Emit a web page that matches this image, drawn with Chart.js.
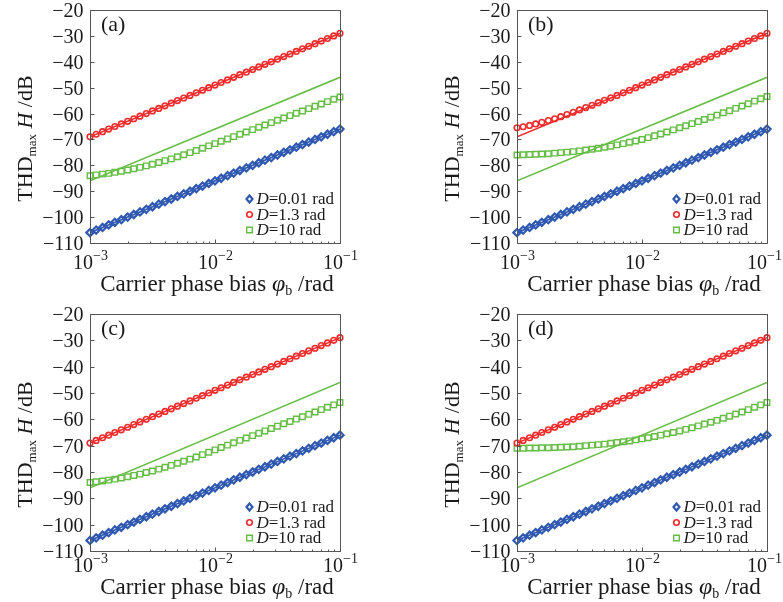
<!DOCTYPE html>
<html><head><meta charset="utf-8">
<script src="https://cdn.jsdelivr.net/npm/chart.js@4"></script>
<style>
body{margin:0;background:#fff;width:783px;height:602px;position:relative;overflow:hidden}
canvas{position:absolute}
</style></head><body>
<canvas id="ca" width="390" height="300" style="left:0;top:0"></canvas>
<canvas id="cb" width="356" height="300" style="left:427px;top:0"></canvas>
<canvas id="cc" width="390" height="298" style="left:0;top:304px"></canvas>
<canvas id="cd" width="356" height="298" style="left:427px;top:304px"></canvas>
<script>
// ---- data ----
const xs = [0.001,0.00112,0.00126,0.00141,0.00158,0.00178,0.002,0.00224,0.00251,0.00282,
  0.00316,0.00355,0.00398,0.00447,0.00501,0.00562,0.00631,0.00708,0.00794,0.00891,
  0.01,0.0112,0.0126,0.0141,0.0158,0.0178,0.02,0.0224,0.0251,0.0282,
  0.0316,0.0355,0.0398,0.0447,0.0501,0.0562,0.0631,0.0708,0.0794,0.0891,0.1];
const xLine = [0.001, 0.1];
const blueLine = [-106, -66];
const redLine = [-69, -29];
const greenLine = [-86, -46];
const blueSim = [-106,-105,-104,-103,-102,-101,-100,-99,-98,-97,-96,-95,-94,-93,-92,-91,-90,-89,-88,-87,
  -86,-85,-84,-83,-82,-81,-80,-79,-78,-77,-76,-75,-74,-73,-72,-71,-70,-69,-68,-67,-66];
const redSim = [-69,-68,-67,-66,-65,-64,-63,-62,-61,-60,-59,-58,-57,-56,-55,-54,-53,-52,-51,-50,
  -49,-48,-47,-46,-45,-44,-43,-42,-41,-40,-39,-38,-37,-36,-35,-34,-33,-32,-31,-30,-29];
const redSimB = [-65.5,-65.1,-64.6,-64.0,-63.4,-62.7,-62.0,-61.2,-60.4,-59.5,-58.6,-57.7,-56.8,-55.8,-54.9,-53.9,-53,-52,-51,-50,
  -49,-48,-47,-46,-45,-44,-43,-42,-41,-40,-39,-38,-37,-36,-35,-34,-33,-32,-31,-30,-29];
const greenSimA = [-84.0,-83.7,-83.4,-83.1,-82.7,-82.3,-81.8,-81.3,-80.8,-80.2,-79.6,-78.9,-78.2,-77.5,-76.7,-75.9,-75.1,-74.3,-73.4,-72.5,
  -71.6,-70.7,-69.8,-68.9,-68.0,-67.1,-66.2,-65.3,-64.4,-63.5,-62.6,-61.7,-60.8,-59.9,-59.0,-58.1,-57.2,-56.3,-55.4,-54.5,-53.6];
const greenSimB = [-76.0,-75.9,-75.8,-75.7,-75.6,-75.5,-75.3,-75.1,-74.9,-74.7,-74.4,-74.1,-73.8,-73.4,-73.0,-72.6,-72.1,-71.6,-71.1,-70.6,
  -70.0,-69.3,-68.6,-67.9,-67.1,-66.3,-65.5,-64.7,-63.9,-63.1,-62.3,-61.4,-60.6,-59.7,-58.9,-58.0,-57.1,-56.2,-55.2,-54.3,-53.4];
const greenSimC = [-84.0,-83.7,-83.4,-83.1,-82.7,-82.3,-81.8,-81.3,-80.8,-80.2,-79.6,-78.9,-78.2,-77.5,-76.7,-75.9,-75.1,-74.3,-73.4,-72.5,
  -71.6,-70.7,-69.8,-68.9,-68.0,-67.1,-66.2,-65.3,-64.4,-63.5,-62.6,-61.7,-60.8,-59.9,-59.0,-58.1,-57.2,-56.3,-55.4,-54.5,-53.6];
const greenSimD = [-71.0,-71.0,-70.9,-70.9,-70.8,-70.8,-70.7,-70.6,-70.5,-70.4,-70.2,-70.0,-69.8,-69.6,-69.4,-69.1,-68.8,-68.5,-68.2,-67.8,
  -67.4,-67.0,-66.5,-66.0,-65.5,-65.0,-64.4,-63.8,-63.2,-62.5,-61.8,-61.1,-60.4,-59.6,-58.8,-58.0,-57.2,-56.3,-55.4,-54.5,-53.6];
const yTicks = [-110,-100,-90,-80,-70,-60,-50,-40,-30,-20];
const xMajor = [0.001, 0.01, 0.1];
const xMajorExp = ['\u22123', '\u22122', '\u22121'];
const xMinor = [0.002,0.003,0.004,0.005,0.006,0.007,0.008,0.009,0.02,0.03,0.04,0.05,0.06,0.07,0.08,0.09];
const legendLabels = ['=0.01 rad', '=1.3 rad', '=10 rad'];

// ---- styles ----
const BLUE = '#2f58b0', RED = '#ee2a2a', GREEN = '#66bd45';
const FONT = '"Liberation Serif", "Times New Roman", serif';
const INK = '#1a1a1a';

function pts(xv, yv) { return xv.map((x, i) => ({x: x, y: yv[i]})); }

function drawMarker(ctx, kind, x, y, color) {
  ctx.save();
  ctx.strokeStyle = color; ctx.beginPath();
  if (kind === 'd') { ctx.lineWidth = 2.2; ctx.moveTo(x, y-3.5); ctx.lineTo(x+3, y); ctx.lineTo(x, y+3.5); ctx.lineTo(x-3, y); ctx.closePath(); }
  else if (kind === 'c') { ctx.lineWidth = 1.6; ctx.arc(x, y, 2.8, 0, Math.PI*2); }
  else { ctx.lineWidth = 1.4; ctx.rect(x-2.8, y-2.8, 5.6, 5.6); }
  ctx.stroke(); ctx.restore();
}

const deco = {
  id: 'deco',
  afterDraw(chart, args, o) {
    const ctx = chart.ctx, a = chart.chartArea, xs_ = chart.scales.x, ys_ = chart.scales.y;
    ctx.save();
    // frame
    ctx.strokeStyle = '#555'; ctx.lineWidth = 1;
    const L = Math.round(a.left) + 0.5, T = Math.round(a.top) + 0.5, R = Math.round(a.right) + 0.5, B = Math.round(a.bottom) + 0.5;
    ctx.strokeRect(L, T, R - L, B - T);
    // y ticks
    ctx.fillStyle = INK;
    ctx.font = '20px ' + FONT; ctx.textAlign = 'right'; ctx.textBaseline = 'middle';
    yTicks.forEach(v => {
      const py = Math.round(ys_.getPixelForValue(v)) + 0.5;
      ctx.beginPath(); ctx.moveTo(L, py); ctx.lineTo(L + 4, py); ctx.stroke();
      ctx.fillText((v < 0 ? '\u2212' : '') + Math.abs(v), L - 7, py + 1);
    });
    // x ticks
    xMajor.forEach((v, i) => {
      const px = Math.round(xs_.getPixelForValue(v)) + 0.5;
      ctx.beginPath(); ctx.moveTo(px, B); ctx.lineTo(px, B - 4); ctx.stroke();
      const base = '10', ex = xMajorExp[i];
      ctx.font = '20px ' + FONT; const wb = ctx.measureText(base).width;
      ctx.font = '14px ' + FONT; const we = ctx.measureText(ex).width;
      let x0 = px - (wb + we) / 2;
      if (x0 + wb + we > chart.width - 1) x0 = chart.width - 1 - wb - we;
      const yb = B + o.tickOff;
      ctx.textAlign = 'left'; ctx.textBaseline = 'middle';
      ctx.font = '20px ' + FONT; ctx.fillText(base, x0, yb);
      ctx.font = '14px ' + FONT; ctx.fillText(ex, x0 + wb, yb - 7);
    });
    xMinor.forEach(v => {
      const px = Math.round(xs_.getPixelForValue(v)) + 0.5;
      ctx.beginPath(); ctx.moveTo(px, B); ctx.lineTo(px, B - 2); ctx.stroke();
    });
    // x title
    {
      const parts = [
        {t: 'Carrier phase bias ', f: '23px ' + FONT, dy: 0},
        {t: '\u03c6', f: 'italic 24px ' + FONT, dy: 0},
        {t: 'b', f: '14px ' + FONT, dy: 7},
        {t: ' /rad', f: '23px ' + FONT, dy: 0}
      ];
      let tot = 0; parts.forEach(p => { ctx.font = p.f; p.w = ctx.measureText(p.t).width; tot += p.w; });
      let x = (a.left + a.right) / 2 - tot / 2 + 2; const y = B + o.titleOff;
      ctx.textAlign = 'left'; ctx.textBaseline = 'middle';
      parts.forEach(p => { ctx.font = p.f; ctx.fillText(p.t, x, y + p.dy); x += p.w; });
    }
    // y title (rotated)
    {
      const parts = [
        {t: 'THD', f: '22px ' + FONT, dy: 0},
        {t: 'max', f: '13px ' + FONT, dy: 7},
        {t: ' ', f: '22px ' + FONT, dy: 0},
        {t: 'H', f: 'italic 22px ' + FONT, dy: 0},
        {t: ' /dB', f: '22px ' + FONT, dy: 0}
      ];
      let tot = 0; parts.forEach(p => { ctx.font = p.f; p.w = ctx.measureText(p.t).width; tot += p.w; });
      ctx.save();
      ctx.translate(a.left - 64, (a.top + a.bottom) / 2 + 12);
      ctx.rotate(-Math.PI / 2);
      let x = -tot / 2;
      ctx.textAlign = 'left'; ctx.textBaseline = 'middle';
      parts.forEach(p => { ctx.font = p.f; ctx.fillText(p.t, x, p.dy); x += p.w; });
      ctx.restore();
    }
    // panel letter
    ctx.font = '22px ' + FONT; ctx.textAlign = 'left'; ctx.textBaseline = 'middle';
    ctx.fillText(o.letter, a.left + 11, a.top + 15);
    // legend
    const kinds = ['d', 'c', 's'], cols = [BLUE, RED, GREEN], rows = [-44.5, -29, -13.5];
    kinds.forEach((k, i) => {
      const yy = B + rows[i];
      drawMarker(ctx, k, R - 91, yy, cols[i]);
      ctx.fillStyle = INK;
      ctx.font = 'italic 17px ' + FONT; const wd = ctx.measureText('D').width;
      ctx.fillText('D', R - 84, yy + 1);
      ctx.font = '17px ' + FONT; ctx.fillText(legendLabels[i], R - 84 + wd, yy + 1);
    });
    ctx.restore();
  }
};

function makeChart(id, red, green, letter, pad, tickOff, titleOff) {
  new Chart(document.getElementById(id), {
    type: 'scatter',
    data: {
      datasets: [
        {data: pts(xs, blueSim), pointStyle: 'rectRot', pointRadius: 3.6, borderColor: BLUE, backgroundColor: 'rgba(0,0,0,0)', pointBorderWidth: 2.2, showLine: false, clip: false},
        {data: pts(xs, red), pointStyle: 'circle', pointRadius: 2.8, borderColor: RED, backgroundColor: 'rgba(0,0,0,0)', pointBorderWidth: 1.6, showLine: false, clip: false},
        {data: pts(xs, green), pointStyle: 'rect', pointRadius: 3.9, borderColor: GREEN, backgroundColor: 'rgba(0,0,0,0)', pointBorderWidth: 1.4, showLine: false, clip: false},
        {data: pts(xLine, blueLine), showLine: true, borderColor: BLUE, borderWidth: 1.6, pointRadius: 0},
        {data: pts(xLine, redLine), showLine: true, borderColor: RED, borderWidth: 1.6, pointRadius: 0},
        {data: pts(xLine, greenLine), showLine: true, borderColor: GREEN, borderWidth: 1.6, pointRadius: 0}
      ]
    },
    options: {
      responsive: false, animation: false, devicePixelRatio: 1,
      layout: {padding: pad},
      plugins: {legend: {display: false}, tooltip: {enabled: false},
        deco: {letter: letter, tickOff: tickOff, titleOff: titleOff}},
      scales: {
        x: {type: 'logarithmic', min: 0.001, max: 0.1, display: false},
        y: {type: 'linear', min: -110, max: -20, display: false}
      }
    },
    plugins: [deco]
  });
}

makeChart('ca', redSim, greenSimA, '(a)', {left: 90, right: 50, top: 10, bottom: 57}, 20, 41);
makeChart('cb', redSimB, greenSimB, '(b)', {left: 90, right: 16, top: 10, bottom: 57}, 20, 41);
makeChart('cc', redSim, greenSimC, '(c)', {left: 90, right: 50, top: 10, bottom: 51}, 15, 36);
makeChart('cd', redSim, greenSimD, '(d)', {left: 90, right: 16, top: 10, bottom: 51}, 15, 36);
</script>
</body></html>
